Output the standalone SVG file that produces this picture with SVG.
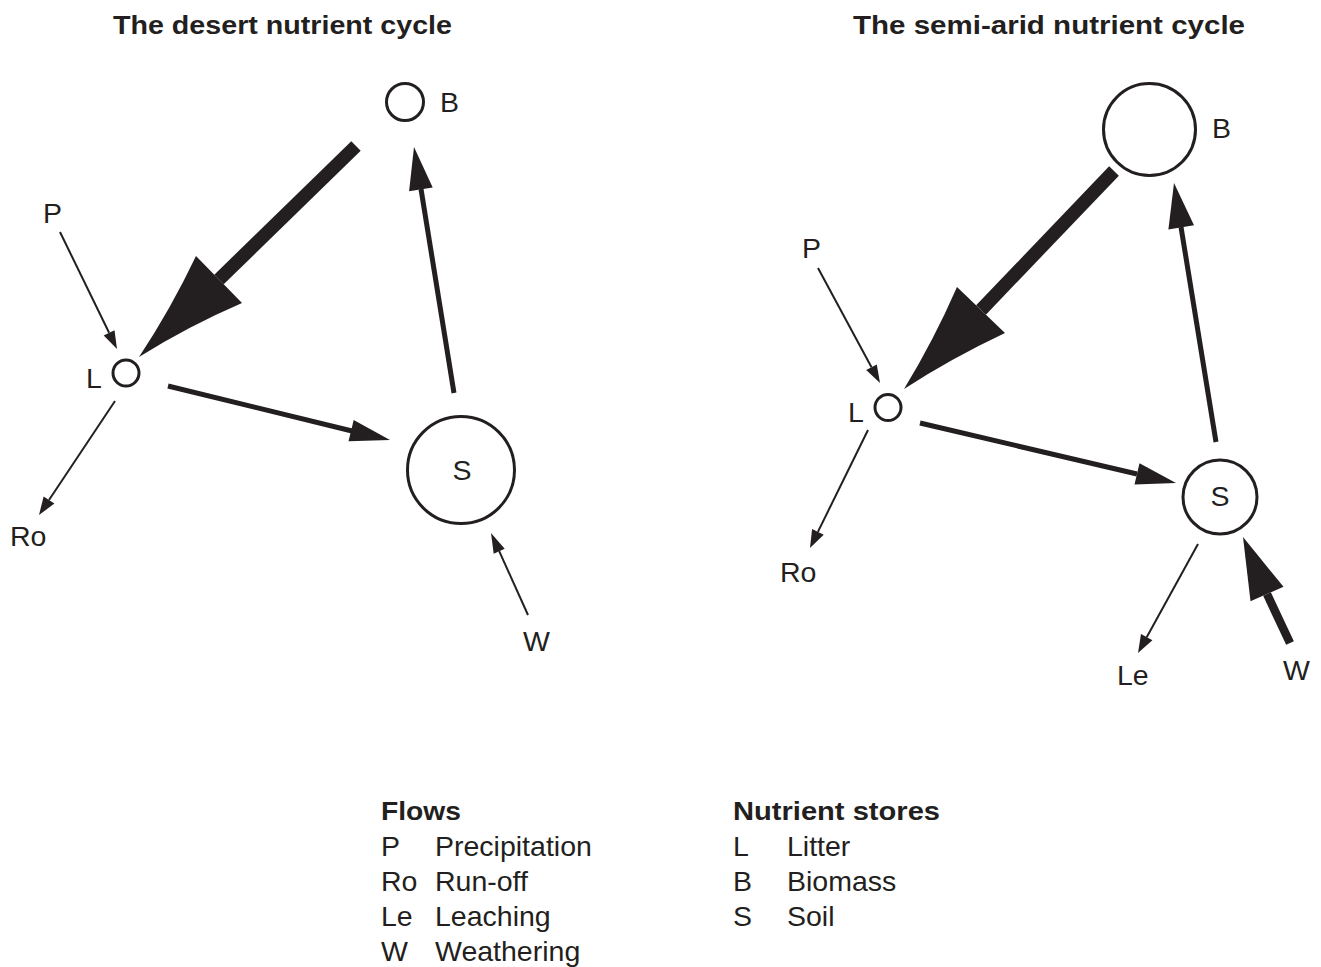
<svg xmlns="http://www.w3.org/2000/svg" width="1321" height="967" viewBox="0 0 1321 967">
<style>
text{font-family:"Liberation Sans",Arial,sans-serif;fill:#231f20}
.t{font-size:26px;font-weight:bold}
.lb{font-size:28.5px}
.h{font-size:26px;font-weight:bold}
.node{fill:none;stroke:#231f20;stroke-width:3}
.thin{stroke:#231f20;stroke-width:2;fill:none}
.mid{stroke:#231f20;stroke-width:5;fill:none}
.big{stroke:#231f20;stroke-width:13.5;fill:none}
.hd{fill:#231f20;stroke:none}
</style>
<rect width="1321" height="967" fill="#fff"/>
<text class="t" x="113" y="34" textLength="339" lengthAdjust="spacingAndGlyphs">The desert nutrient cycle</text>
<text class="t" x="853" y="34" textLength="392" lengthAdjust="spacingAndGlyphs">The semi-arid nutrient cycle</text>

<g id="desert-B"><circle class="node" cx="405" cy="102" r="18.5"/><text class="lb" x="440" y="112">B</text></g>
<g id="desert-L"><circle class="node" cx="126" cy="373" r="13"/><text class="lb" x="86" y="388">L</text></g>
<g id="desert-S"><circle class="node" cx="461" cy="470" r="53.5"/><text class="lb" x="462" y="480" text-anchor="middle">S</text></g>
<g id="desert-P"><text class="lb" x="43" y="223">P</text></g>
<g id="desert-Ro"><text class="lb" x="10" y="546">Ro</text></g>
<g id="desert-W"><text class="lb" x="523" y="651">W</text></g>

<g id="semi-B"><circle class="node" cx="1149.5" cy="129.5" r="46"/><text class="lb" x="1212" y="138">B</text></g>
<g id="semi-L"><circle class="node" cx="888" cy="407.5" r="13"/><text class="lb" x="848" y="422">L</text></g>
<g id="semi-S"><circle class="node" cx="1220" cy="497" r="37"/><text class="lb" x="1220" y="506" text-anchor="middle">S</text></g>
<g id="semi-P"><text class="lb" x="802" y="258">P</text></g>
<g id="semi-Ro"><text class="lb" x="780" y="582">Ro</text></g>
<g id="semi-Le"><text class="lb" x="1117" y="685">Le</text></g>
<g id="semi-W"><text class="lb" x="1283" y="680">W</text></g>

<g id="connectors">
<!-- desert -->
<line class="big" x1="356" y1="146" x2="219" y2="279.5"/>
<path class="hd" d="M214.3,274.7 L196,256 Q170.5,309.5 139,357 Q187.5,326.5 242,303 L223.7,284.3 Z"/>
<line class="mid" x1="168" y1="386" x2="352" y2="431"/>
<path class="hd" d="M390,440 L353.7,419.9 L348.5,441.3 Z"/>
<line class="mid" x1="454" y1="393" x2="421" y2="189"/>
<path class="hd" d="M414,147 L432.7,187.5 L409.1,191.3 Z"/>
<line class="thin" x1="60" y1="232" x2="109.1" y2="332.8"/>
<path class="hd" d="M117,349 L103.7,335.4 L114.5,330.2 Z"/>
<line class="thin" x1="115" y1="401" x2="49" y2="500"/>
<path class="hd" d="M39,515 L54.4,503.6 L43.6,496.4 Z"/>
<line class="thin" x1="528" y1="615" x2="499.2" y2="551.2"/>
<path class="hd" d="M491,533 L504.7,548.7 L493.7,553.7 Z"/>
<!-- semi-arid -->
<line class="big" x1="1114" y1="171" x2="981" y2="310"/>
<path class="hd" d="M976.3,305.5 L957,287 Q933.5,340.8 904,389 Q951.5,358.2 1005,333 L985.7,314.5 Z"/>
<line class="mid" x1="920" y1="423" x2="1137" y2="474"/>
<path class="hd" d="M1176,483 L1139.5,463.2 L1134.5,484.6 Z"/>
<line class="mid" x1="1216" y1="442" x2="1181" y2="227"/>
<path class="hd" d="M1174,183 L1194,225.3 L1168.4,229.5 Z"/>
<line class="thin" x1="818" y1="268" x2="871.5" y2="367.2"/>
<path class="hd" d="M880,383 L866.2,370.1 L876.8,364.4 Z"/>
<line class="thin" x1="868" y1="430" x2="817.9" y2="531.9"/>
<path class="hd" d="M810,548 L823.7,534.8 L812.1,529 Z"/>
<line class="thin" x1="1198" y1="544" x2="1146.7" y2="637.2"/>
<path class="hd" d="M1138,653 L1152.4,640.3 L1141,634.1 Z"/>
<line x1="1290" y1="643" x2="1267" y2="594" stroke="#231f20" stroke-width="8.5"/>
<path class="hd" d="M1243,537 L1283.5,586.8 L1250.5,601.2 Z"/>
</g>

<g id="legend">
<text class="h" x="381" y="820" textLength="80" lengthAdjust="spacingAndGlyphs">Flows</text>
<text class="lb" x="381" y="856">P</text><text class="lb" x="435" y="856">Precipitation</text>
<text class="lb" x="381" y="891">Ro</text><text class="lb" x="435" y="891">Run-off</text>
<text class="lb" x="381" y="926">Le</text><text class="lb" x="435" y="926">Leaching</text>
<text class="lb" x="381" y="961">W</text><text class="lb" x="435" y="961">Weathering</text>
<text class="h" x="733" y="820" textLength="207" lengthAdjust="spacingAndGlyphs">Nutrient stores</text>
<text class="lb" x="733" y="856">L</text><text class="lb" x="787" y="856">Litter</text>
<text class="lb" x="733" y="891">B</text><text class="lb" x="787" y="891">Biomass</text>
<text class="lb" x="733" y="926">S</text><text class="lb" x="787" y="926">Soil</text>
</g>
</svg>
